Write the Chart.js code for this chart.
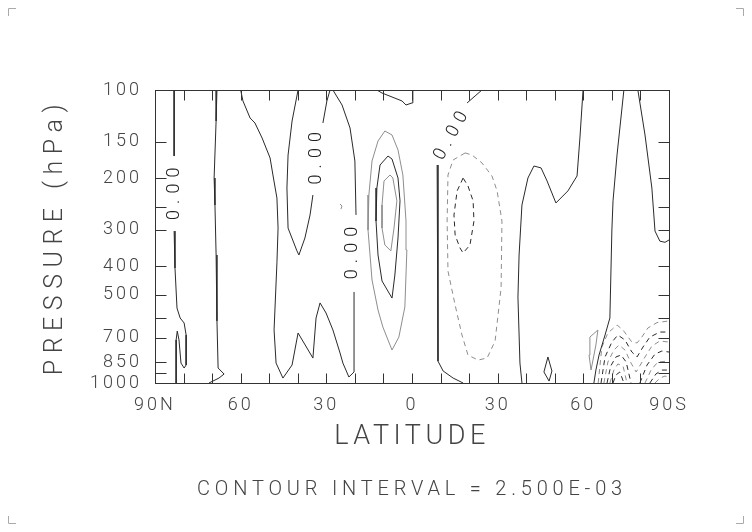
<!DOCTYPE html>
<html><head><meta charset="utf-8">
<script src="https://cdn.jsdelivr.net/npm/chart.js@4.4.1/dist/chart.umd.min.js"></script>
<style>html,body{margin:0;padding:0;background:#fff;}#wrap{width:752px;height:532px;}</style>
</head><body><div id="wrap"><canvas id="c" width="752" height="532"></canvas></div>
<script>
// ---- axis ticks ----
const xTickValues = [-90, -60, -30, 0, 30, 60, 90];
const xTickLabels = ['90S', '60', '30', '0', '30', '60', '90N'];
const xMinorTicks = [-80, -70, -60, -50, -40, -30, -20, -10, 0, 10, 20, 30, 40, 50, 60, 70, 80];
const yTickValues = [100, 150, 200, 250, 300, 400, 500, 600, 700, 850, 925, 1000];
const yLabelValues = [100, 150, 200, 300, 400, 500, 700, 850, 1000];

// ---- contour polylines: [latitude (N positive), pressure hPa] ----
// zero contours
const zeroA1 = [[83.3,100],[83.3,168]];
const zeroA2 = [[83.3,303],[83.0,405],[82.3,555],[81.2,600],[79.8,624],[79.1,686],[79.1,868],[79.8,889],[80.9,855],[81.6,713],[82.2,665],[82.6,713],[82.6,1000]];
const zeroB = [[68.3,100],[68.6,127.6],[69.3,199.7],[69.0,246.9],[68.6,365.7],[68.3,614],[67.9,889],[65.8,932],[67.6,962],[71.1,1000]];
const zeroC1 = [[60.0,100],[59.2,109],[56.7,124.6],[55.0,129.6],[52.5,145.8],[49.7,170.6],[48.7,195],[47.3,233.7],[46.9,296],[47.3,389],[48.3,659],[47.6,855],[45.2,962],[42.0,868],[39.9,675],[34.7,822],[33.6,600],[32.2,533],[30.1,577],[27.7,659],[25.2,790],[24.2,855],[22.1,954],[20.3,917],[20.3,489]];
const zeroC2 = [[19.6,267],[20.0,174.7],[21.7,134.8],[24.5,112.5],[27.7,100]];
const zeroD1 = [[28.7,100],[29.8,109],[31.2,129.6]];
const zeroD2 = [[34.7,228.2],[35.7,267],[37.5,320],[39.6,365.7],[40.3,354],[43.4,296],[43.8,216],[43.4,166.7],[42.0,127.6],[39.9,100]];
const zeroE = [[12.3,100],[10.5,102.4],[3.5,109],[2.1,112.5],[0.0,110.7],[-0.3,100]];
const zeroF1 = [[-24.5,100],[-22.1,104.8],[-19.3,110.7]];
const zeroF2 = [[-8.8,180.3],[-9.1,365.7],[-9.1,842],[-10.9,910],[-14.4,962],[-17.9,1000]];
const zeroI = [[-38.5,1000],[-37.8,855],[-37.1,509],[-37.5,365.7],[-38.5,246.9],[-40.6,199.7],[-42.7,181.7],[-45.2,184.5],[-47.3,204.4],[-50.4,243],[-54.6,221],[-57.8,196.5],[-58.8,145.8],[-59.9,100]];
const zeroJ = [[-74.2,100],[-71.8,166.7],[-70.4,239],[-70.0,300.5],[-69.3,600],[-67.6,686],[-65.5,802.8],[-64.4,903.3],[-63.7,1000]];
const zeroK = [[-79.1,100],[-81.6,142.4],[-84.0,216],[-85.1,303],[-86.8,328],[-88.6,331],[-90,325]];
const zeroL = [[-47.6,815],[-46.2,917],[-48.0,985],[-49.0,910],[-47.6,815]];
// positive contours
const posOuter = [[9.5,138],[11.9,149.3],[14.0,174.7],[15.1,228.2],[15.4,300.5],[14.0,445.1],[11.9,563.5],[10.2,644],[7.0,771.8],[4.6,697],[2.5,550],[1.8,351.6],[2.1,280],[3.2,195],[4.9,160.2],[7.0,142.4],[9.5,138]];
const posMiddle = [[8.4,168],[11.2,180.3],[12.3,216],[12.6,280],[11.9,365.7],[10.5,448.6],[7.0,513],[6.0,428],[4.9,320],[4.2,239],[4.9,199.7],[7.0,172],[8.4,168]];
const posInner = [[7.7,195],[9.8,204.4],[10.5,246.9],[10.5,296],[9.5,338.1],[7.4,354],[6.3,296],[5.3,239],[6.7,199.7],[7.7,195]];
const posSouth = [[-62.3,697],[-65.1,659.5],[-64.4,742],[-62.7,903],[-62.0,802.8],[-62.3,697]];
const posTiny = [[25.2,245],[24.5,249],[24.9,255]];
// negative contours
const negOuter = [[-18.6,164],[-14.4,173.3],[-12.6,195],[-12.3,280],[-12.6,415],[-15.1,541.8],[-17.5,686],[-19.6,802.8],[-23.1,835],[-26.3,822],[-29.1,719],[-31.2,474],[-31.5,280],[-29.8,221],[-28.0,196.5],[-24.5,177.4],[-21.0,166.7],[-18.6,164]];
const negInner = [[-17.9,199.7],[-15.8,221],[-14.7,267],[-15.1,312.5],[-16.8,346],[-17.9,360],[-20.3,338],[-21.7,280],[-21.4,239],[-19.6,212.6],[-17.9,199.7]];
const negSA = [[-65.2,1000],[-66.5,753.6],[-68.6,675],[-71.8,634],[-73.9,659.5],[-77.0,725],[-78.8,730],[-80.5,697],[-82.6,649],[-85.8,622],[-90,614]];
const negSB = [[-66.2,1000],[-67.6,815],[-70.0,725],[-72.1,686],[-74.6,713.5],[-77.0,784],[-78.8,815],[-80.9,753.6],[-83.3,697],[-86.8,670],[-90,670]];
const negSC = [[-67.2,1000],[-68.6,848],[-70.7,771.8],[-72.5,742],[-74.6,771.8],[-76.7,855],[-78.5,917],[-81.6,815],[-84.0,748],[-86.8,719],[-90,725]];
const negSD1 = [[-68.3,1000],[-69.6,875],[-71.4,815],[-73.2,802.8],[-75.0,848],[-76.7,1000]];
const negSD2 = [[-79.8,1000],[-82.3,868.5],[-85.1,796.6],[-87.5,778],[-90,784]];
const negSE1 = [[-69.3,1000],[-70.7,903.3],[-72.1,861],[-73.9,875],[-75.3,1000]];
const negSE2 = [[-81.6,1000],[-83.7,903.3],[-86.1,848],[-90,841]];
const negSF1 = [[-70.4,1000],[-71.4,939.5],[-72.8,917],[-74.2,1000]];
const negSF2 = [[-83.3,1000],[-85.4,932],[-87.5,903.3],[-90,903.3]];
const negSG = [[-85.1,1000],[-86.8,962],[-88.6,947],[-90,954]];

// contour labels
const labelLat = [83.0, 33.3, 20.7, -13.7];
const labelP = [226, 171, 360, 143.5];
const labelAngle = [-90, -90, -90, -61];
const labelText = ['0.00', '0.00', '0.00', '0.00'];

// ---- styling ----
const FONT = 'Roboto, "DejaVu Sans", sans-serif';
const DARK = '#2a2a2a', LIGHT = '#8e8e8e', TEXT = '#444';
const styles = {
  zero: {color: DARK, dash: []},
  posLight: {color: LIGHT, dash: []},
  posDark: {color: DARK, dash: []},
  negLight: {color: LIGHT, dash: [5, 4]},
  negDark: {color: DARK, dash: [5, 4]}
};
const lines = [
  [zeroA1,'zero'],[zeroA2,'zero'],[zeroB,'zero'],[zeroC1,'zero'],[zeroC2,'zero'],[zeroD1,'zero'],[zeroD2,'zero'],
  [zeroE,'zero'],[zeroF1,'zero'],[zeroF2,'zero'],[zeroI,'zero'],[zeroJ,'zero'],[zeroK,'zero'],[zeroL,'zero'],
  [posOuter,'posLight'],[posMiddle,'posDark'],[posInner,'posLight'],[posSouth,'posLight'],[posTiny,'posLight'],
  [negOuter,'negLight'],[negInner,'negDark'],
  [negSA,'negLight'],[negSB,'negDark'],[negSC,'negLight'],[negSD1,'negDark'],[negSD2,'negDark'],
  [negSE1,'negLight'],[negSE2,'negLight'],[negSF1,'negDark'],[negSF2,'negDark'],[negSG,'negLight']
];
const datasets = lines.map(([pts, st]) => ({
  data: pts.map(([lat, p]) => ({x: lat, y: p})),
  showLine: true, pointRadius: 0, borderWidth: 1, tension: 0, fill: false,
  borderColor: styles[st].color, borderDash: styles[st].dash
}));

const framePlugin = {
  id: 'frameTicks',
  afterDraw(chart) {
    const {ctx, chartArea: a, scales: {x, y}} = chart;
    const L = Math.round(a.left) + 0.5, R = Math.round(a.right) + 0.5, T = Math.round(a.top) + 0.5, B = Math.round(a.bottom) + 0.5;
    ctx.save();
    ctx.strokeStyle = '#333'; ctx.lineWidth = 1; ctx.setLineDash([]);
    ctx.strokeRect(L, T, R - L, B - T);
    ctx.beginPath();
    xMinorTicks.forEach(v => {
      const px = Math.round(x.getPixelForValue(v)) + 0.5;
      ctx.moveTo(px, T); ctx.lineTo(px, T + 10);
      ctx.moveTo(px, B); ctx.lineTo(px, B - 10);
    });
    yTickValues.forEach(v => {
      if (v === 100 || v === 1000) return;
      const py = Math.round(y.getPixelForValue(v)) + 0.5;
      ctx.moveTo(L, py); ctx.lineTo(L + 11, py);
      ctx.moveTo(R, py); ctx.lineTo(R - 11, py);
    });
    ctx.stroke();
    // corner crop marks
    ctx.strokeStyle = '#aaa';
    ctx.beginPath();
    ctx.moveTo(8.5, 16); ctx.lineTo(8.5, 8.5); ctx.lineTo(16, 8.5);
    ctx.moveTo(736, 8.5); ctx.lineTo(743.5, 8.5); ctx.lineTo(743.5, 16);
    ctx.moveTo(8.5, 516); ctx.lineTo(8.5, 523.5); ctx.lineTo(16, 523.5);
    ctx.moveTo(736, 523.5); ctx.lineTo(743.5, 523.5); ctx.lineTo(743.5, 516);
    ctx.stroke();
    ctx.restore();
  }
};

const labelPlugin = {
  id: 'contourLabels',
  afterDatasetsDraw(chart) {
    const {ctx, scales: {x, y}} = chart;
    ctx.save();
    ctx.font = '300 18px ' + FONT;
    ctx.fillStyle = '#222';
    ctx.letterSpacing = '6px';
    ctx.textAlign = 'center'; ctx.textBaseline = 'middle';
    labelLat.forEach((lat, i) => {
      ctx.save();
      ctx.translate(x.getPixelForValue(lat), y.getPixelForValue(labelP[i]));
      ctx.rotate(labelAngle[i] * Math.PI / 180);
      ctx.fillText(labelText[i], 3, 0);
      ctx.restore();
    });
    ctx.restore();
  }
};

const spacingPlugin = {
  id: 'spacing',
  beforeDraw(chart) {
    const ctx = chart.ctx;
    ctx.fillStyle = '#fff'; ctx.fillRect(0, 0, chart.width, chart.height);
    ctx.letterSpacing = '3px';
    const wrap = (obj, method, sp) => {
      if (!obj || obj['_sp_' + method]) return;
      const orig = obj[method];
      obj[method] = function (...args) {
        const c = chart.ctx; const prev = c.letterSpacing;
        c.letterSpacing = sp; const r = orig.apply(this, args); c.letterSpacing = prev; return r;
      };
      obj['_sp_' + method] = true;
    };
    wrap(chart.scales.x, 'drawTitle', '4.5px');
    wrap(chart.scales.y, 'drawTitle', '6.5px');
    wrap(chart.titleBlock, 'draw', '4.8px');
  },
  afterDraw(chart) { chart.ctx.letterSpacing = '0px'; }
};

new Chart(document.getElementById('c'), {
  type: 'scatter',
  data: {datasets},
  options: {
    responsive: false, animation: false, devicePixelRatio: 1,
    layout: {padding: {left: 0, top: 90, right: 83, bottom: 0}},
    plugins: {
      legend: {display: false}, tooltip: {enabled: false},
      title: {
        display: true, text: 'CONTOUR INTERVAL = 2.500E-03', position: 'bottom', fullSize: false,
        color: TEXT, font: {family: FONT, size: 20, weight: '300'}, padding: {top: 0, bottom: 30}
      }
    },
    scales: {
      x: {
        type: 'linear', position: 'bottom', min: -90, max: 90, reverse: true,
        grid: {display: false, drawTicks: false}, border: {display: false},
        afterBuildTicks: s => { s.ticks = xTickValues.map(v => ({value: v})); },
        afterFit: s => { s.height = 95; },
        ticks: {
          autoSkip: false, maxRotation: 0, minRotation: 0, padding: 12, color: TEXT,
          font: {family: FONT, size: 18, weight: '300'},
          callback: v => xTickLabels[xTickValues.indexOf(v)]
        },
        title: {display: true, text: 'LATITUDE', color: TEXT, font: {family: FONT, size: 27, weight: '300'}, padding: {top: 0, bottom: 25}}
      },
      y: {
        type: 'logarithmic', position: 'left', min: 100, max: 1000, reverse: true,
        grid: {display: false, drawTicks: false}, border: {display: false},
        afterBuildTicks: s => { s.ticks = yTickValues.map(v => ({value: v})); },
        afterFit: s => { s.width = 155; },
        ticks: {
          autoSkip: false, padding: 13, color: TEXT,
          font: {family: FONT, size: 18, weight: '300'},
          callback: v => yLabelValues.includes(v) ? String(v) : ''
        },
        title: {display: true, text: 'PRESSURE (hPa)', color: TEXT, font: {family: FONT, size: 25, weight: '300'}, padding: {top: 41, bottom: 0}}
      }
    }
  },
  plugins: [spacingPlugin, labelPlugin, framePlugin]
});
</script></body></html>
